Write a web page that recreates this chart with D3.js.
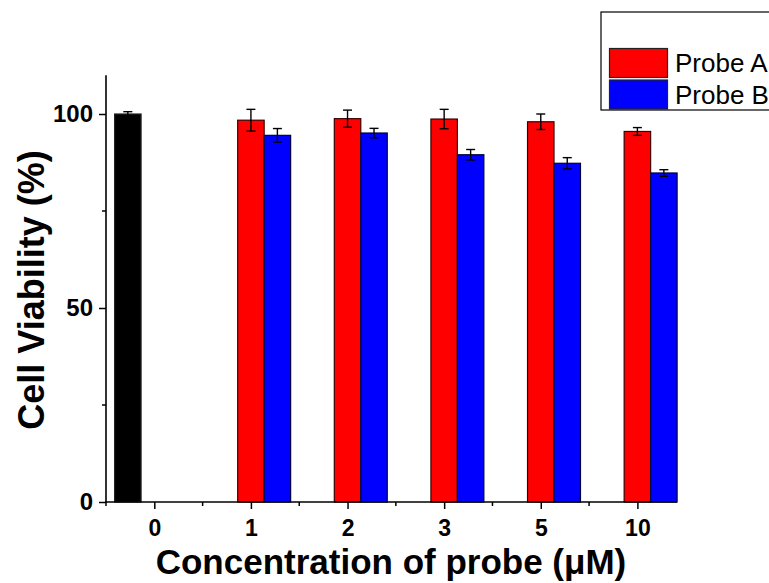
<!DOCTYPE html>
<html><head><meta charset="utf-8">
<script src="https://cdn.jsdelivr.net/npm/d3@7"></script>
<style>body{margin:0;background:#fff}svg{display:block}text{font-family:Arial,"Liberation Sans",sans-serif}</style>
</head><body>
<script>
const categories = ["0","1","2","3","5","10"];
const controlValues = [100, null, null, null, null, null];
const controlErrors = [0.6, null, null, null, null, null];
const probeAValues = [null, 98.4, 98.8, 98.7, 98.0, 95.5];
const probeAErrors = [null, 2.8, 2.2, 2.5, 2.0, 1.0];
const probeBValues = [null, 94.5, 95.1, 89.5, 87.3, 84.8];
const probeBErrors = [null, 1.75, 1.2, 1.35, 1.45, 0.85];
const yTicks = [0, 50, 100];
const yMinorTicks = [25, 75];

const W = 769, H = 583;
const svg = d3.select("body").append("svg").attr("width", W).attr("height", H);

const x = d3.scaleLinear().domain([-0.5, 5.41]).range([106, 677]);
const y = d3.scaleLinear().domain([0, 110]).range([502, 75.2]);
const slot = (x(1) - x(0)) * 0.274;

const series = [
  {vals: controlValues, errs: controlErrors, color: "#000000", stroke:"#222", off: -1.5},
  {vals: probeAValues, errs: probeAErrors, color: "#ff0000", stroke:"#3a0000", off: -0.5},
  {vals: probeBValues, errs: probeBErrors, color: "#0000ff", stroke:"#00003a", off: 0.5}
];

series.forEach(s => {
  const data = s.vals.map((v, i) => ({i, v, e: s.errs[i]})).filter(d => d.v != null);
  svg.append("g").selectAll("rect").data(data).join("rect")
    .attr("x", d => x(d.i) + s.off * slot)
    .attr("y", d => y(d.v))
    .attr("width", slot)
    .attr("height", d => y(0) - y(d.v))
    .attr("fill", s.color).attr("stroke", s.stroke).attr("stroke-width", 1.2);
  const eg = svg.append("g").attr("stroke", "#000").attr("stroke-width", 1.4);
  data.forEach(d => {
    const cx = x(d.i) + (s.off + 0.5) * slot;
    eg.append("line").attr("x1", cx).attr("x2", cx).attr("y1", y(d.v + d.e)).attr("y2", y(d.v - d.e));
    eg.append("line").attr("x1", cx - 4.5).attr("x2", cx + 4.5).attr("y1", y(d.v + d.e)).attr("y2", y(d.v + d.e));
    eg.append("line").attr("x1", cx - 4.5).attr("x2", cx + 4.5).attr("y1", y(d.v - d.e)).attr("y2", y(d.v - d.e));
  });
});

// Y axis
const yAxis = d3.axisLeft(y).tickValues(yTicks).tickSize(7).tickPadding(6).tickFormat(d3.format("d"));
const yg = svg.append("g").attr("transform", "translate(106,0)").call(yAxis);
yg.attr("font-size", null).attr("font-family", null);
yg.select(".domain").remove();
yg.selectAll(".tick line").attr("stroke-width", 1.5);
yg.selectAll("text").style("font-size", "24px").style("font-weight", "bold").attr("fill", "#000");
svg.append("g").selectAll("line").data(yMinorTicks).join("line")
  .attr("x1", 106).attr("x2", 102).attr("y1", d => y(d)).attr("y2", d => y(d))
  .attr("stroke", "#000").attr("stroke-width", 1.5);
svg.append("line").attr("x1", 106).attr("x2", 106).attr("y1", y(110)).attr("y2", y(0) + 1)
  .attr("stroke", "#000").attr("stroke-width", 1.6);

// X axis
const xAxis = d3.axisBottom(x).tickValues(d3.range(categories.length)).tickSize(7).tickPadding(11)
  .tickFormat(i => categories[i]);
const xg = svg.append("g").attr("transform", `translate(0,${y(0)})`).call(xAxis);
xg.attr("font-size", null).attr("font-family", null);
xg.select(".domain").remove();
xg.selectAll(".tick line").attr("stroke-width", 1.5);
xg.selectAll("text").style("font-size", "23px").style("font-weight", "bold").attr("fill", "#000");
svg.append("g").selectAll("line").data(d3.range(-0.5, 5, 1)).join("line")
  .attr("x1", d => x(d)).attr("x2", d => x(d)).attr("y1", y(0)).attr("y2", y(0) + 4)
  .attr("stroke", "#000").attr("stroke-width", 1.5);
svg.append("line").attr("x1", 105).attr("x2", 677).attr("y1", y(0)).attr("y2", y(0))
  .attr("stroke", "#000").attr("stroke-width", 1.6);

// Titles
svg.append("text").attr("x", 391).attr("y", 574).attr("text-anchor", "middle")
  .style("font-size", "35px").style("font-weight", "bold").text("Concentration of probe (μM)");
svg.append("text").attr("transform", "translate(44,290) rotate(-90)").attr("text-anchor", "middle")
  .style("font-size", "36px").style("font-weight", "bold").text("Cell Viability (%)");

// Legend
const legend = svg.append("g");
legend.append("rect").attr("x", 601).attr("y", 12).attr("width", 200).attr("height", 98)
  .attr("fill", "#fff").attr("stroke", "#000").attr("stroke-width", 1.2);
const legItems = [{name: "Probe A", color: "#ff0000"}, {name: "Probe B", color: "#0000ff"}];
legItems.forEach((d, i) => {
  legend.append("rect").attr("x", 609.5).attr("y", 48.5 + i * 31.5).attr("width", 58).attr("height", 29)
    .attr("fill", d.color).attr("stroke", "#222").attr("stroke-width", 1.2);
  legend.append("text").attr("x", 675).attr("y", 72 + i * 31.5).style("font-size", "26px").attr("fill", "#000").text(d.name);
});
</script>
</body></html>
